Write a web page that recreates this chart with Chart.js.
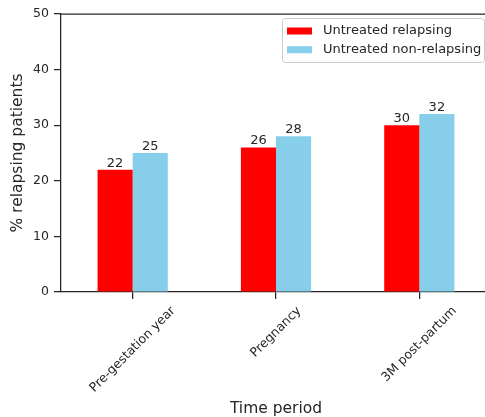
<!DOCTYPE html>
<html>
<head>
<meta charset="utf-8">
<script src="https://cdn.jsdelivr.net/npm/chart.js@4"></script>
<style>
html,body{margin:0;padding:0;background:#fff;overflow:hidden;width:485px;height:417px;}
#wrap{position:absolute;left:0;top:0;width:500px;height:417px;}
</style>
</head>
<body>
<div id="wrap"><canvas id="c" width="500" height="417"></canvas></div>
<script>
const categories = ['Pre-gestation year', 'Pregnancy', '3M post-partum'];
const relapsing = [22, 26, 30];
const nonRelapsing = [25, 28, 32];
const seriesNames = ['Untreated relapsing', 'Untreated non-relapsing'];
const seriesColors = ['#ff0000', '#87ceeb'];
const yTicks = [0, 10, 20, 30, 40, 50];

const FONT = '"DejaVu Sans", sans-serif';
const TXT = '#262626';
const W = 500;

const overlay = {
  id: 'overlay',
  afterDraw(chart) {
    const ctx = chart.ctx;
    const a = chart.chartArea;
    const xs = chart.scales.x;
    ctx.save();
    // top spine and right spine
    ctx.strokeStyle = TXT;
    ctx.lineWidth = 1.25;
    ctx.beginPath();
    ctx.moveTo(a.left, a.top);
    ctx.lineTo(a.right, a.top);
    ctx.lineTo(a.right, a.bottom);
    ctx.stroke();

    // data labels
    ctx.fillStyle = TXT;
    ctx.font = '13px ' + FONT;
    ctx.textAlign = 'center';
    ctx.textBaseline = 'alphabetic';
    chart.data.datasets.forEach((ds, di) => {
      const meta = chart.getDatasetMeta(di);
      meta.data.forEach((bar, i) => {
        ctx.fillText(String(ds.data[i]), bar.x, bar.y - 3);
      });
    });

    // rotated x labels (center-aligned bounding box like matplotlib)
    ctx.font = '12.5px ' + FONT;
    const h = 14;
    categories.forEach((lab, i) => {
      const x = xs.getPixelForTick(i);
      const w = ctx.measureText(lab).width;
      const bb = (w + h) * Math.SQRT1_2;
      const top = a.bottom + 7 + 5;
      ctx.save();
      ctx.translate(x, top + bb / 2);
      ctx.rotate(-Math.PI / 4);
      ctx.textAlign = 'center';
      ctx.textBaseline = 'middle';
      ctx.fillText(lab, 0, 0);
      ctx.restore();
    });

    // axis titles
    ctx.font = '15.5px ' + FONT;
    ctx.textAlign = 'center';
    ctx.textBaseline = 'middle';
    ctx.fillText('Time period', (a.left + a.right) / 2, 409);
    ctx.save();
    ctx.translate(18, (a.top + a.bottom) / 2);
    ctx.rotate(-Math.PI / 2);
    ctx.fillText('% relapsing patients', 0, 0);
    ctx.restore();

    // legend
    ctx.font = '13px ' + FONT;
    const lx = 282, ly = 18, lw = 202, lh = 44;
    ctx.fillStyle = 'rgba(255,255,255,0.8)';
    ctx.strokeStyle = '#cccccc';
    ctx.lineWidth = 1;
    ctx.beginPath();
    ctx.roundRect(lx + 0.5, ly + 0.5, lw, lh, 3);
    ctx.fill();
    ctx.stroke();
    ctx.textAlign = 'left';
    ctx.textBaseline = 'middle';
    seriesNames.forEach((n, i) => {
      const cy = 31 + i * 18.7;
      ctx.fillStyle = seriesColors[i];
      ctx.fillRect(287, cy - 3.5, 25, 7);
      ctx.fillStyle = TXT;
      ctx.fillText(n, 323, cy);
    });
    ctx.restore();
  }
};

new Chart(document.getElementById('c'), {
  type: 'bar',
  data: {
    labels: categories,
    datasets: [
      { label: seriesNames[0], data: relapsing, backgroundColor: seriesColors[0], borderWidth: 0 },
      { label: seriesNames[1], data: nonRelapsing, backgroundColor: seriesColors[1], borderWidth: 0 }
    ]
  },
  options: {
    responsive: false,
    animation: false,
    devicePixelRatio: 1,
    categoryPercentage: 0.49,
    barPercentage: 1.0,
    layout: { padding: { left: 0, top: 14, right: W - 491, bottom: 0 } },
    plugins: { legend: { display: false }, tooltip: { enabled: false } },
    scales: {
      x: {
        offset: true,
        afterFit(s) { s.height = 125; },
        ticks: { display: false },
        grid: { drawOnChartArea: false, drawTicks: true, tickLength: 7, color: TXT, lineWidth: 1.25, offset: false },
        border: { display: true, color: TXT, width: 1.25 }
      },
      y: {
        min: 0, max: 50,
        afterFit(s) { s.width = 61; },
        afterBuildTicks(s) { s.ticks = yTicks.map(v => ({ value: v })); },
        ticks: { color: TXT, font: { family: FONT, size: 12.5 }, padding: 5 },
        grid: { drawOnChartArea: false, drawTicks: true, tickLength: 7, color: TXT, lineWidth: 1.25 },
        border: { display: true, color: TXT, width: 1.25 }
      }
    }
  },
  plugins: [overlay]
});
</script>
</body>
</html>
